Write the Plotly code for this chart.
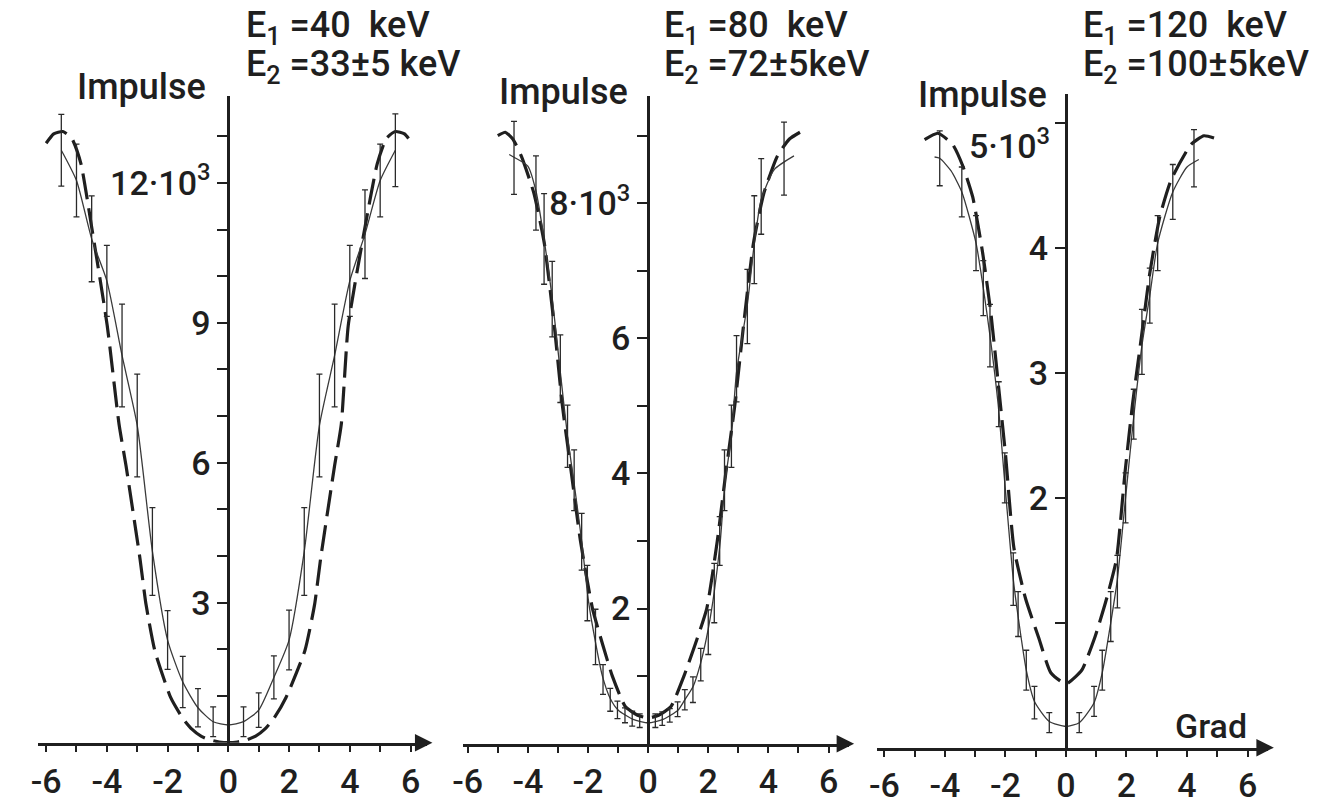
import plotly.graph_objects as go

# ---------------- data (x in Grad, y in 10^3 Impulse) ----------------
# Panel 1: E1 = 40 keV, E2 = 33 +- 5 keV
p1_x = [-5.5, -5.0, -4.5, -4.0, -3.5, -3.0, -2.5, -2.0, -1.5, -1.0, -0.5,
        0.5, 1.0, 1.5, 2.0, 2.5, 3.0, 3.5, 4.0, 4.5, 5.0, 5.5]
p1_y = [12.7, 12.05, 10.8, 9.9, 8.3, 6.8, 4.1, 2.2, 1.3, 0.75, 0.45,
        0.45, 0.7, 1.4, 2.2, 4.1, 6.8, 8.3, 9.9, 10.9, 12.05, 12.7]
p1_err = [0.77, 0.78, 0.92, 0.76, 1.1, 1.1, 0.94, 0.63, 0.55, 0.41, 0.32,
          0.32, 0.37, 0.46, 0.64, 0.94, 1.1, 1.1, 0.76, 0.95, 0.78, 0.78]
p1_fit_x = [-5.5, -5.0, -4.5, -4.0, -3.5, -3.0, -2.5, -2.0, -1.5, -1.0, -0.5, 0.0,
            0.5, 1.0, 1.5, 2.0, 2.5, 3.0, 3.5, 4.0, 4.5, 5.0, 5.5]
p1_fit_y = [12.7, 12.05, 10.8, 9.9, 8.3, 6.8, 4.1, 2.2, 1.3, 0.75, 0.45, 0.38,
            0.45, 0.7, 1.4, 2.2, 4.1, 6.8, 8.3, 9.9, 10.9, 12.05, 12.7]
p1_th_x = [-6.0, -5.75, -5.45, -5.15, -4.85, -4.5, -3.99, -3.6, -3.37, -2.91, -2.71,
           -2.42, -1.9, -1.5, -1.2, -0.9, -0.6, -0.3, 0.0, 0.3, 0.6, 0.9, 1.2, 1.5,
           1.9, 2.52, 2.84, 3.04, 3.5, 3.72, 3.95, 4.5, 4.9, 5.2, 5.5, 5.8, 6.05]
p1_th_y = [12.85, 13.05, 13.1, 12.95, 12.4, 11.05, 8.95, 6.83, 5.94, 3.95, 2.96,
           1.97, 0.97, 0.52, 0.29, 0.14, 0.06, 0.015, 0.0, 0.015, 0.06, 0.14, 0.29, 0.52,
           0.97, 1.97, 2.96, 3.95, 5.94, 6.83, 8.95, 11.05, 12.4, 12.95, 13.1, 13.05, 12.85]

# Panel 2: E1 = 80 keV, E2 = 72 +- 5 keV
p2_x = [-4.46, -3.73, -3.46, -3.19, -2.92, -2.68, -2.46, -2.21, -2.02, -1.75, -1.5,
        -1.26, -1.02, -0.77, -0.53, -0.28, 0.24, 0.47, 0.72, 0.98, 1.22, 1.49, 1.75,
        2.0, 2.2, 2.38, 2.54, 2.77, 2.94, 3.3, 3.53, 3.76, 4.52]
p2_y = [8.67, 8.15, 7.47, 6.58, 5.55, 4.55, 3.9, 2.99, 2.23, 1.58, 0.95,
        0.65, 0.5, 0.42, 0.37, 0.34, 0.34, 0.37, 0.42, 0.51, 0.65, 0.8, 1.17,
        1.65, 2.23, 3.0, 3.9, 4.55, 5.55, 6.47, 7.46, 8.1, 8.66]
p2_err = [0.54, 0.55, 0.67, 0.56, 0.5, 0.46, 0.45, 0.42, 0.41, 0.41, 0.22,
          0.17, 0.13, 0.11, 0.11, 0.1, 0.1, 0.1, 0.1, 0.11, 0.15, 0.19, 0.24,
          0.33, 0.44, 0.36, 0.45, 0.46, 0.49, 0.55, 0.65, 0.56, 0.54]
p2_fit_x = [-4.62, -4.46, -4.0, -3.73, -3.46, -3.19, -2.92, -2.68, -2.46, -2.21, -1.98,
            -1.75, -1.52, -1.26, -1.0, -0.5, 0.0, 0.5, 1.0, 1.22, 1.5, 1.75, 2.0, 2.2,
            2.4, 2.55, 2.77, 2.94, 3.3, 3.53, 3.76, 4.2, 4.85]
p2_fit_y = [8.72, 8.68, 8.55, 8.18, 7.47, 6.6, 5.5, 4.55, 3.85, 3.0, 2.1,
            1.5, 1.0, 0.67, 0.5, 0.36, 0.31, 0.36, 0.5, 0.65, 0.85, 1.2, 1.7, 2.25,
            3.0, 3.85, 4.55, 5.5, 6.5, 7.4, 8.05, 8.5, 8.7]
p2_th_x = [-5.0, -4.75, -4.5, -4.22, -3.8, -3.45, -3.1, -2.85, -2.55, -2.25, -1.85,
           -1.5, -1.19, -0.76, -0.35, 0.0, 0.35, 0.76, 1.19, 1.55, 1.95, 2.3, 2.58,
           2.88, 3.15, 3.5, 3.85, 4.3, 4.7, 5.05]
p2_th_y = [9.0, 9.05, 8.95, 8.7, 8.15, 7.4, 6.1, 5.0, 4.0, 3.0, 2.0,
           1.45, 1.0, 0.55, 0.42, 0.38, 0.42, 0.55, 1.0, 1.45, 2.0, 3.0, 4.0,
           5.0, 6.1, 7.4, 8.15, 8.7, 8.95, 9.05]

# Panel 3: E1 = 120 keV, E2 = 100 +- 5 keV
p3_x = [-4.17, -3.44, -2.97, -2.73, -2.51, -2.22, -2.02, -1.74, -1.58, -1.31, -1.04, -0.55,
        0.44, 0.93, 1.2, 1.48, 1.7, 1.97, 2.24, 2.51, 2.77, 3.03, 3.53, 4.23]
p3_y = [4.72, 4.45, 4.04, 3.68, 3.3, 2.75, 2.16, 1.35, 1.07, 0.62, 0.36, 0.2,
        0.2, 0.37, 0.62, 1.05, 1.33, 2.0, 2.67, 3.25, 3.62, 4.04, 4.45, 4.72]
p3_err = [0.22, 0.2, 0.22, 0.22, 0.25, 0.18, 0.2, 0.21, 0.18, 0.16, 0.13, 0.08,
          0.08, 0.12, 0.16, 0.2, 0.21, 0.2, 0.2, 0.26, 0.22, 0.22, 0.22, 0.23]
p3_fit_x = [-4.34, -4.17, -3.8, -3.44, -2.97, -2.73, -2.51, -2.24, -2.02, -1.74, -1.58,
            -1.31, -1.04, -0.55, 0.0, 0.44, 0.93, 1.2, 1.48, 1.7, 1.97, 2.24, 2.51,
            2.77, 3.03, 3.53, 4.0, 4.39]
p3_fit_y = [4.73, 4.72, 4.62, 4.45, 4.04, 3.68, 3.3, 2.75, 2.12, 1.35, 1.05,
            0.62, 0.37, 0.21, 0.17, 0.2, 0.36, 0.6, 1.0, 1.35, 2.0, 2.65, 3.22,
            3.62, 4.04, 4.45, 4.65, 4.71]
p3_th_x = [-4.67, -4.23, -3.74, -3.41, -3.08, -2.75, -2.48, -2.2, -1.99, -1.72, -1.33,
           -0.9, -0.5, 0.0, 0.52, 0.95, 1.34, 1.67, 1.95, 2.2, 2.5, 2.77, 3.1, 3.48,
           4.13, 4.56, 5.05]
p3_th_y = [4.87, 4.92, 4.83, 4.66, 4.41, 3.96, 3.48, 2.83, 2.33, 1.6, 1.19,
           0.88, 0.6, 0.51, 0.62, 0.88, 1.19, 1.51, 2.2, 2.75, 3.3, 3.8, 4.25, 4.55,
           4.83, 4.9, 4.87]

# tick positions and labels
x_minor = list(range(-6, 7))
x_tickvals = [-6, -4, -2, 0, 2, 4, 6]
x_ticktext = ['-6', '-4', '-2', '0', '2', '4', '6']
p1_minor = list(range(1, 14))
p1_tickvals = [3, 6, 9, 12]
p1_ticktext = ['3', '6', '9', '12·10<sup>3</sup>']
p2_minor = list(range(1, 10))
p2_tickvals = [2, 4, 6, 8]
p2_ticktext = ['2', '4', '6', '8·10<sup>3</sup>']
p3_minor = list(range(1, 6))
p3_tickvals = [2, 3, 4]
p3_ticktext = ['2', '3', '4']
p3_top_label = '5·10<sup>3</sup>'

titles_e1 = ['E<sub>1</sub>\u00a0=40\u00a0\u00a0keV', 'E<sub>1</sub>\u00a0=80\u00a0\u00a0keV',
             'E<sub>1</sub>\u00a0=120\u00a0\u00a0keV']
titles_e2 = ['E<sub>2</sub>\u00a0=33±5\u00a0keV', 'E<sub>2</sub>\u00a0=72±5keV',
             'E<sub>2</sub>\u00a0=100±5keV']

# ---------------- layout geometry (pixels) ----------------
W, H = 1320, 805
INK = '#1f1f1f'
FONT = 'Roboto, Inter, DejaVu Sans, sans-serif'
TF = dict(family=FONT, size=34, color=INK, weight=500)

panels = [
    dict(sfx='', x=p1_x, y=p1_y, err=p1_err, fx=p1_fit_x, fy=p1_fit_y, tx=p1_th_x, ty=p1_th_y,
         xdom=(28, 420), x0=220, xs=30.6, ybot=753, ytop=97, ys=47.3,
         mv=p1_minor, tv=p1_tickvals, tt=p1_ticktext, tip=6.72, imp=(133, 88), ex=236),
    dict(sfx='2', x=p2_x, y=p2_y, err=p2_err, fx=p2_fit_x, fy=p2_fit_y, tx=p2_th_x, ty=p2_th_y,
         xdom=(456, 845), x0=643, xs=30.3, ybot=754, ytop=97, ys=68.5,
         mv=p2_minor, tv=p2_tickvals, tt=p2_ticktext, tip=6.85, imp=(558, 93), ex=657),
    dict(sfx='3', x=p3_x, y=p3_y, err=p3_err, fx=p3_fit_x, fy=p3_fit_y, tx=p3_th_x, ty=p3_th_y,
         xdom=(874, 1268), x0=1064, xs=30.5, ybot=758, ytop=95, ys=126.6,
         mv=p3_minor, tv=p3_tickvals, tt=p3_ticktext, tip=6.87, imp=(980, 96), ex=1079),
]

fig = go.Figure()
layout = dict(width=W, height=H, margin=dict(l=0, r=0, t=0, b=0),
              paper_bgcolor='white', plot_bgcolor='rgba(0,0,0,0)', showlegend=False)
annotations = []

for i, p in enumerate(panels):
    xa = 'x' + p['sfx']
    ya = 'y' + p['sfx']
    fig.add_trace(go.Scatter(x=p['tx'], y=p['ty'], mode='lines', xaxis=xa, yaxis=ya,
                             line=dict(color=INK, width=3.2, dash='26px,9px',
                                       shape='spline', smoothing=0.5)))
    fig.add_trace(go.Scatter(x=p['fx'], y=p['fy'], mode='lines', xaxis=xa, yaxis=ya,
                             line=dict(color='#3a3a3a', width=1.3, shape='spline', smoothing=0.6)))
    fig.add_trace(go.Scatter(x=p['x'], y=p['y'], mode='markers', xaxis=xa, yaxis=ya,
                             marker=dict(size=1, color='rgba(0,0,0,0)'),
                             error_y=dict(type='data', array=p['err'], visible=True,
                                          thickness=1.3, width=3, color='#2a2a2a')))
    l, r = p['xdom']
    xr = [(l - p['x0']) / p['xs'], (r - p['x0']) / p['xs']]
    yr = [0, (p['ybot'] - p['ytop']) / p['ys']]
    layout['xaxis' + p['sfx']] = dict(
        domain=[l / W, r / W], range=xr, anchor=ya, showline=True, linewidth=3, linecolor=INK,
        ticks='outside', ticklen=6, tickwidth=2, tickcolor=INK,
        tickmode='array', tickvals=x_tickvals, ticktext=x_ticktext, tickfont=TF,
        minor=dict(tickmode='array', tickvals=x_minor, ticks='outside', ticklen=6,
                   tickwidth=2, tickcolor=INK),
        showgrid=False, zeroline=False)
    layout['yaxis' + p['sfx']] = dict(
        domain=[1 - p['ybot'] / H, 1 - p['ytop'] / H], range=yr, anchor='free',
        position=p['x0'] / W, showline=True, linewidth=3, linecolor=INK,
        ticks='outside', ticklen=10, tickwidth=2, tickcolor=INK,
        tickmode='array', tickvals=p['tv'], ticktext=p['tt'], tickfont=TF,
        minor=dict(tickmode='array', tickvals=p['mv'], ticks='outside', ticklen=10,
                   tickwidth=2, tickcolor=INK),
        showgrid=False, zeroline=False)
    # arrow head on x axis
    annotations.append(dict(x=p['tip'], y=0, ax=xr[1] - 0.3, ay=0, xref=xa, yref=ya,
                            axref=xa, ayref=ya, showarrow=True, arrowhead=2, arrowsize=1.4,
                            arrowwidth=2.5, arrowcolor=INK, text=''))
    annotations.append(dict(x=p['imp'][0] / W, y=1 - p['imp'][1] / H, xref='paper', yref='paper',
                            text='Impulse', showarrow=False, xanchor='center', yanchor='middle',
                            font=dict(family=FONT, size=36, color=INK, weight=500)))
    annotations.append(dict(x=p['ex'] / W, y=1 - 28 / H, xref='paper', yref='paper',
                            text=titles_e1[i], showarrow=False, xanchor='left', yanchor='middle',
                            font=dict(family=FONT, size=36, color=INK, weight=500)))
    annotations.append(dict(x=p['ex'] / W, y=1 - 67 / H, xref='paper', yref='paper',
                            text=titles_e2[i], showarrow=False, xanchor='left', yanchor='middle',
                            font=dict(family=FONT, size=36, color=INK, weight=500)))

# label of the top tick of panel 3 sits just below its tick
annotations.append(dict(x=1050 / W, y=1 - 146 / H, xref='paper', yref='paper', text=p3_top_label,
                        showarrow=False, xanchor='right', yanchor='middle', font=TF))
annotations.append(dict(x=1210 / W, y=1 - 736 / H, xref='paper', yref='paper', text='Grad',
                        showarrow=False, xanchor='center', yanchor='middle',
                        font=dict(family=FONT, size=34, color=INK, weight=500)))
layout['annotations'] = annotations
fig.update_layout(**layout)
fig.write_html('out.html')
